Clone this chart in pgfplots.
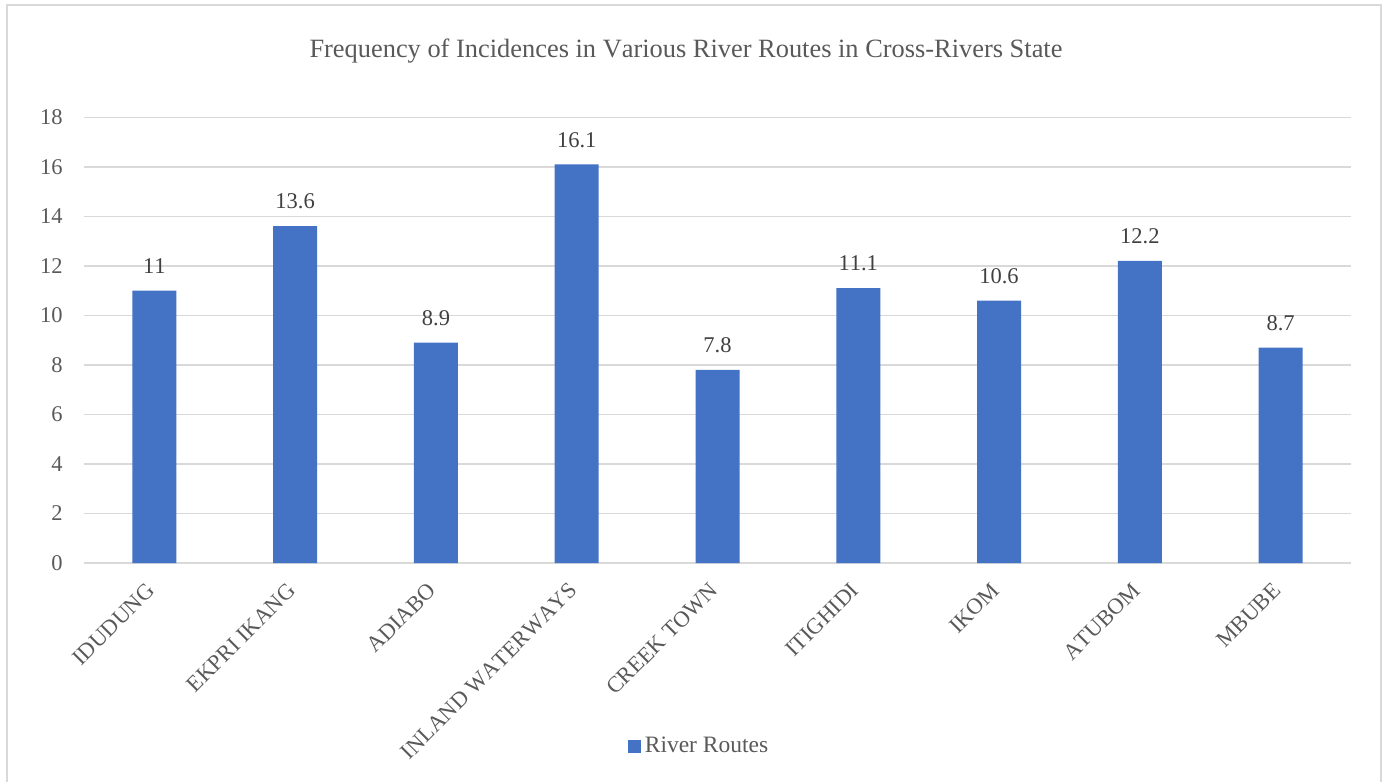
\documentclass[border=0pt]{standalone}
\usepackage{fontspec}
\setmainfont[Kerning=Off]{Liberation Serif}
\usepackage{pgfplots}
\pgfplotsset{compat=1.18}

\definecolor{barblue}{HTML}{4472C4}
\definecolor{txtgray}{HTML}{595959}
\definecolor{lblgray}{HTML}{404040}
\definecolor{gridgray}{HTML}{D9D9D9}

\begin{document}
\begin{tikzpicture}[x=1pt,y=1pt]
% page frame and chart border
\useasboundingbox (-42,-109.5) rectangle (652,281.5);
\draw[gridgray, line width=0.8pt] (-38.5,-130) -- (-38.5,279) -- (648.5,279) -- (648.5,-130);

\node[anchor=base, font=\fontsize{13.2}{15}\selectfont, text=txtgray] at (301,252.5)
  {Frequency of Incidences in Various River Routes in Cross-Rivers State};

\begin{axis}[
  at={(0,0)}, anchor=south west,
  scale only axis, width=633.5pt, height=222.85pt,
  xmin=-0.5, xmax=8.5, ymin=0, ymax=18,
  ytick={0,2,...,18},
  xtick=data,
  xticklabels={IDUDUNG, EKPRI IKANG, ADIABO, INLAND WATERWAYS, CREEK TOWN, ITIGHIDI, IKOM, ATUBOM, MBUBE},
  ymajorgrids, grid style={gridgray, line width=0.75pt},
  axis line style={draw=none},
  major tick length=0pt,
  clip=false,
  /pgf/number format/assume math mode=true,
  ticklabel style={font=\fontsize{11.25}{13}\selectfont, text=txtgray},
  yticklabel style={anchor=east, inner sep=0pt, xshift=-10.5pt},
  xticklabel style={anchor=north east, inner sep=0pt, xshift=-4.5pt, yshift=-9pt, rotate=45},
  ybar, bar width=22pt,
  nodes near coords,
  nodes near coords style={font=\fontsize{11.25}{13}\selectfont, text=lblgray, anchor=south, inner sep=0pt, yshift=8.3pt},
  legend style={at={(0.4862,-0.4106)}, anchor=center, draw=none, fill=none,
    font=\fontsize{11.75}{14}\selectfont, text=txtgray, inner sep=0pt},
  legend image code/.code={\fill[barblue] (0pt,-3.25pt) rectangle (6.5pt,3.25pt);},
]
\addplot[fill=barblue, draw=none] coordinates {
  (0,11) (1,13.6) (2,8.9) (3,16.1) (4,7.8) (5,11.1) (6,10.6) (7,12.2) (8,8.7)
};
\addlegendentry{River Routes}
\end{axis}
\end{tikzpicture}
\end{document}
